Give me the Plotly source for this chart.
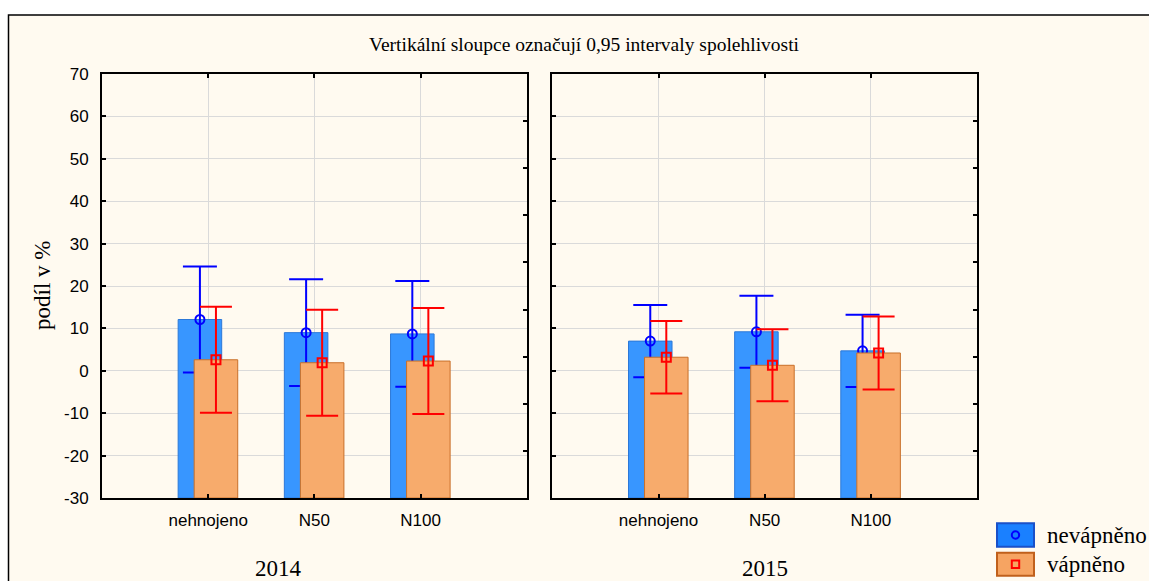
import plotly.graph_objects as go

# ---------------- data ----------------
categories = ["nehnojeno", "N50", "N100"]
years = ["2014", "2015"]
series_names = ["nevápněno", "vápněno"]

mean_nev_2014 = [12.1, 9.0, 8.7]
ci_nev_2014 = [12.5, 12.6, 12.45]
mean_vap_2014 = [2.6, 1.9, 2.3]
ci_vap_2014 = [12.5, 12.5, 12.5]

mean_nev_2015 = [7.0, 9.2, 4.7]
ci_nev_2015 = [8.5, 8.5, 8.5]
mean_vap_2015 = [3.2, 1.3, 4.2]
ci_vap_2015 = [8.55, 8.5, 8.6]

y_ticks = [-30, -20, -10, 0, 10, 20, 30, 40, 50, 60, 70]
y_tick_labels = [str(v) for v in y_ticks]

# ---------------- style ----------------
W, H = 1149, 581
ML, MR, MT, MB = 102, 172, 74, 83
PW, PH = W - ML - MR, H - MT - MB
BASE = -30
BAR_W = 0.41
OFF_NEV, OFF_VAP = -0.283, -0.132
BLUE_FILL, BLUE_EDGE = "#3896ff", "#2c78d8"
ORANGE_FILL, ORANGE_EDGE = "#f7ab6c", "#c8702a"
SERIF = "Liberation Serif, Times New Roman, serif"
SANS = "Liberation Sans, Arial, sans-serif"


def px(xp):
    return (xp - ML) / PW


def py(yp):
    return 1 - (yp - MT) / PH


pos = [i + 1 for i in range(len(categories))]
fig = go.Figure()

panels = [
    (mean_nev_2014, ci_nev_2014, mean_vap_2014, ci_vap_2014, "x", "y", "x3", "y3", "y5"),
    (mean_nev_2015, ci_nev_2015, mean_vap_2015, ci_vap_2015, "x2", "y2", "x4", "y4", "y6"),
]

for mn, cn, mv, cv, xa, ya, xo, yo, yr in panels:
    # blue bars (main subplot)
    fig.add_trace(go.Bar(
        x=pos, y=[v - BASE for v in mn], base=BASE, width=BAR_W, offset=OFF_NEV,
        marker=dict(color=BLUE_FILL, line=dict(color=BLUE_EDGE, width=1)),
        xaxis=xa, yaxis=ya, showlegend=False, hoverinfo="skip"))
    fig.add_trace(go.Scatter(
        x=[p + OFF_NEV + BAR_W / 2 for p in pos], y=mn, mode="markers",
        marker=dict(symbol="circle-open", size=9, color="#0000ff", line=dict(width=2)),
        error_y=dict(type="data", array=cn, color="#0000ff", thickness=2, width=17),
        xaxis=xa, yaxis=ya, showlegend=False, hoverinfo="skip"))
    # orange bars (overlay subplot, drawn above blue)
    fig.add_trace(go.Bar(
        x=pos, y=[v - BASE for v in mv], base=BASE, width=BAR_W, offset=OFF_VAP,
        marker=dict(color=ORANGE_FILL, line=dict(color=ORANGE_EDGE, width=1)),
        xaxis=xo, yaxis=yo, showlegend=False, hoverinfo="skip"))
    fig.add_trace(go.Scatter(
        x=[p + OFF_VAP + BAR_W / 2 for p in pos], y=mv, mode="markers",
        marker=dict(symbol="square-open", size=9, color="#ff0000", line=dict(width=2)),
        error_y=dict(type="data", array=cv, color="#ff0000", thickness=2, width=16),
        xaxis=xo, yaxis=yo, showlegend=False, hoverinfo="skip"))
    # empty trace for the right tick axis
    fig.add_trace(go.Scatter(x=[], y=[], xaxis=xa, yaxis=yr, showlegend=False, hoverinfo="skip"))

d1 = px(526.8)
d2 = px(552.4)

xcommon = dict(range=[0, 4], tickmode="array", tickvals=pos, ticktext=categories,
               ticks="inside", ticklen=4, tickwidth=1.5, tickcolor="black",
               showline=True, linecolor="black", linewidth=2, mirror="ticks",
               showgrid=True, gridcolor="#dadada", gridwidth=1, zeroline=False,
               tickfont=dict(family=SANS, size=17, color="black"), ticklabelstandoff=6,
               fixedrange=True)
ycommon = dict(range=[-30, 70], tickmode="array", tickvals=y_ticks, ticktext=y_tick_labels,
               ticks="inside", ticklen=4, tickwidth=1.5, tickcolor="black",
               showline=True, linecolor="black", linewidth=2, mirror=False,
               showgrid=True, gridcolor="#dadada", gridwidth=1, zeroline=False,
               tickfont=dict(family=SANS, size=17, color="black"), ticklabelstandoff=8,
               fixedrange=True)
yright = dict(range=[0, 9], dtick=1, ticks="inside", ticklen=4, tickwidth=1.5,
              tickcolor="black", showline=True, linecolor="black", linewidth=2,
              showgrid=False, zeroline=False, showticklabels=False, side="right",
              fixedrange=True)
hidden = dict(visible=False, showgrid=False, zeroline=False, fixedrange=True)

fig.update_layout(
    width=W, height=H,
    margin=dict(l=ML, r=MR, t=MT, b=MB, pad=0),
    paper_bgcolor="white", plot_bgcolor="white",
    barmode="overlay", showlegend=False,
    xaxis=dict(xcommon, domain=[0, d1], anchor="y"),
    yaxis=dict(ycommon, domain=[0, 1], anchor="x"),
    xaxis2=dict(xcommon, domain=[d2, 1], anchor="y2"),
    yaxis2=dict(ycommon, domain=[0, 1], anchor="x2", showticklabels=False),
    xaxis3=dict(hidden, range=[0, 4], domain=[0, d1], anchor="y3", overlaying="x"),
    yaxis3=dict(hidden, range=[-30, 70], domain=[0, 1], anchor="x3", overlaying="y"),
    xaxis4=dict(hidden, range=[0, 4], domain=[d2, 1], anchor="y4", overlaying="x2"),
    yaxis4=dict(hidden, range=[-30, 70], domain=[0, 1], anchor="x4", overlaying="y2"),
    yaxis5=dict(yright, anchor="x", overlaying="y"),
    yaxis6=dict(yright, anchor="x2", overlaying="y2"),
)

# page frame
fig.add_shape(type="rect", xref="paper", yref="paper",
              x0=px(8.5), x1=px(1170), y0=py(600), y1=py(15),
              fillcolor="#fffaf0", line=dict(color="black", width=1.5), layer="below")

# title
fig.add_annotation(text="Vertikální sloupce označují 0,95 intervaly spolehlivosti",
                   xref="paper", yref="paper", x=px(584.5), y=py(44),
                   xanchor="center", yanchor="middle", showarrow=False,
                   font=dict(family=SERIF, size=19.5, color="black"))
# y axis title
fig.add_annotation(text="podíl v %", xref="paper", yref="paper", x=px(42), y=py(286),
                   xanchor="center", yanchor="middle", showarrow=False, textangle=-90,
                   font=dict(family=SERIF, size=23, color="black"))
# year labels
for yr_label, xc in zip(years, [278, 764.6]):
    fig.add_annotation(text=yr_label, xref="paper", yref="paper", x=px(xc), y=py(568),
                       xanchor="center", yanchor="middle", showarrow=False,
                       font=dict(family=SERIF, size=23, color="black"))

# legend (manual)
leg_rows = [
    (series_names[0], 523.3, 546.7, "#1a80ff", "#1a50c8", "#0000ff", "circle"),
    (series_names[1], 552.7, 575.7, "#f6a462", "#c0601c", "#ff0000", "rect"),
]
for name, yt, yb, fill, edge, mcol, sym in leg_rows:
    fig.add_shape(type="rect", xref="paper", yref="paper",
                  x0=px(997), x1=px(1034), y0=py(yb), y1=py(yt),
                  fillcolor=fill, line=dict(color=edge, width=2))
    yc = (yt + yb) / 2
    fig.add_shape(type=sym, xref="paper", yref="paper",
                  x0=px(1015.5 - 3.7), x1=px(1015.5 + 3.7), y0=py(yc + 3.7), y1=py(yc - 3.7),
                  line=dict(color=mcol, width=2))
    fig.add_annotation(text=name, xref="paper", yref="paper", x=px(1045), y=py(yc),
                       xanchor="left", yanchor="middle", showarrow=False,
                       font=dict(family=SERIF, size=23, color="black"))

fig.write_html("out.html")
